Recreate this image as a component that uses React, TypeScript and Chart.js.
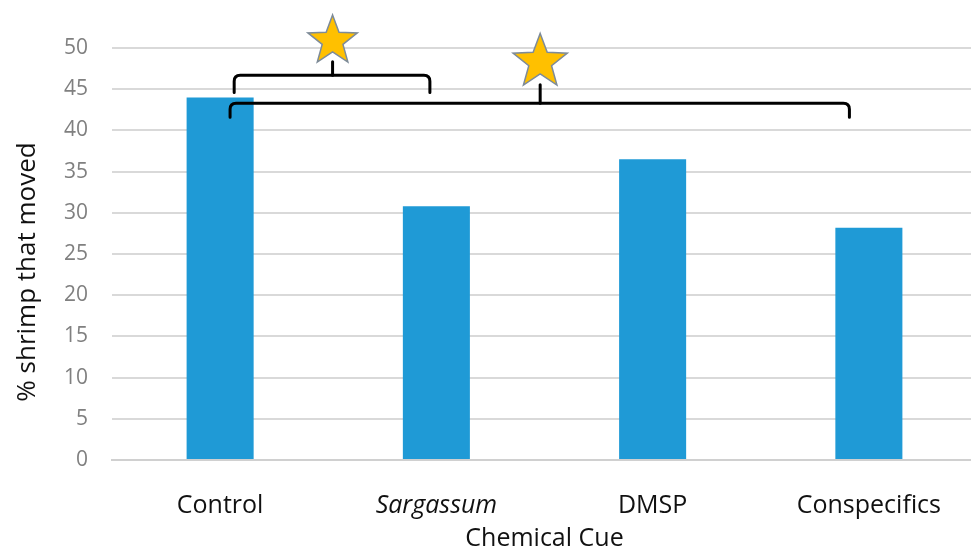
import React, { useEffect, useRef } from "react";
import { Chart, registerables } from "chart.js";

Chart.register(...registerables);

const categories = ["Control", "Sargassum", "DMSP", "Conspecifics"];
const values = [44.0, 30.8, 36.5, 28.2];
const yTicks = [0, 5, 10, 15, 20, 25, 30, 35, 40, 45, 50];
const yTitle = "% shrimp that moved";

// significance brackets (category positions and value levels)
const bracketStart = [0.065, 0.046];
const bracketEnd = [0.97, 2.91];
const bracketMid = [0.52, 1.48];
const bracketLevel = [46.7, 43.3];
const bracketDrop = [44.6, 41.6];
const starLevel = [50.85, 48.3];
const starRadius = [26, 28.5];

const FONT = "'Open Sans', Lato, sans-serif";

function drawStar(ctx: CanvasRenderingContext2D, cx: number, cy: number, R: number) {
  const r = R * 0.42;
  ctx.beginPath();
  for (let i = 0; i < 10; i++) {
    const rad = i % 2 === 0 ? R : r;
    const a = -Math.PI / 2 + (i * Math.PI) / 5;
    const x = cx + rad * Math.cos(a);
    const y = cy + rad * Math.sin(a);
    if (i === 0) ctx.moveTo(x, y);
    else ctx.lineTo(x, y);
  }
  ctx.closePath();
  ctx.fillStyle = "#FFC000";
  ctx.fill();
  ctx.strokeStyle = "#7d8b99";
  ctx.lineWidth = 1.5;
  ctx.stroke();
}

const bracketPlugin = {
  id: "brackets",
  afterDatasetsDraw(chart: any) {
    const { ctx, scales } = chart;
    const xs = scales.x;
    const ys = scales.y;
    ctx.save();
    for (let i = 0; i < bracketStart.length; i++) {
      const x1 = xs.getPixelForValue(bracketStart[i]);
      const x2 = xs.getPixelForValue(bracketEnd[i]);
      const xm = xs.getPixelForValue(bracketMid[i]);
      const yh = ys.getPixelForValue(bracketLevel[i]);
      const yd = ys.getPixelForValue(bracketDrop[i]);
      const sy = ys.getPixelForValue(starLevel[i]);
      const R = starRadius[i];
      const rr = 6;
      ctx.strokeStyle = "#000";
      ctx.lineWidth = 3;
      ctx.lineCap = "round";
      ctx.beginPath();
      ctx.moveTo(x1, yd);
      ctx.lineTo(x1, yh + rr);
      ctx.quadraticCurveTo(x1, yh, x1 + rr, yh);
      ctx.lineTo(x2 - rr, yh);
      ctx.quadraticCurveTo(x2, yh, x2, yh + rr);
      ctx.lineTo(x2, yd);
      ctx.stroke();
      ctx.beginPath();
      ctx.moveTo(xm, yh);
      ctx.lineTo(xm, sy + R * 0.8);
      ctx.stroke();
      drawStar(ctx, xm, sy, R);
    }
    ctx.restore();
  },
  afterDraw(chart: any) {
    const { ctx } = chart;
    ctx.save();
    ctx.translate(28, 272);
    ctx.rotate(-Math.PI / 2);
    ctx.fillStyle = "#111";
    ctx.font = `26px ${FONT}`;
    ctx.textAlign = "center";
    ctx.textBaseline = "middle";
    ctx.fillText(yTitle, 0, 0);
    ctx.restore();
  },
};

export default function App() {
  const ref = useRef<HTMLCanvasElement>(null);
  useEffect(() => {
    if (!ref.current) return;
    const chart = new Chart(ref.current, {
      type: "bar",
      data: {
        labels: categories,
        datasets: [
          {
            data: values,
            backgroundColor: "#1f9ad6",
            borderWidth: 0,
            categoryPercentage: 1,
            barPercentage: 0.31,
          },
        ],
      },
      options: {
        responsive: false,
        animation: false,
        layout: { padding: { top: 48, right: 0, left: 0, bottom: 0 } },
        plugins: { legend: { display: false }, tooltip: { enabled: false } },
        scales: {
          x: {
            afterFit: (s: any) => {
              s.height = 94;
            },
            grid: { display: false },
            border: { color: "#d0d0d0", width: 2 },
            ticks: {
              color: "#111",
              padding: 23,
              maxRotation: 0,
              font: (c: any) =>
                c.index === 1
                  ? { family: FONT, size: 25, style: "italic" }
                  : { family: FONT, size: 25 },
            },
            title: {
              display: true,
              text: "Chemical Cue",
              color: "#111",
              font: { family: FONT, size: 25 },
              padding: { top: 0, bottom: 0 },
            },
          },
          y: {
            min: 0,
            max: 50,
            afterBuildTicks: (s: any) => {
              s.ticks = yTicks.map((v) => ({ value: v }));
            },
            afterFit: (s: any) => {
              s.width = 112;
            },
            grid: { color: "#d9d9d9", lineWidth: 2, drawTicks: false },
            border: { display: false },
            ticks: {
              color: "#808080",
              padding: 24,
              font: { family: FONT, size: 21 },
            },
          },
        },
      },
      plugins: [bracketPlugin],
    });
    return () => chart.destroy();
  }, []);
  return (
    <div
      style={{
        position: "fixed",
        left: 0,
        top: 0,
        width: 971,
        height: 554,
        overflow: "hidden",
        background: "#fff",
      }}
    >
      <canvas ref={ref} width={977} height={554} />
    </div>
  );
}
